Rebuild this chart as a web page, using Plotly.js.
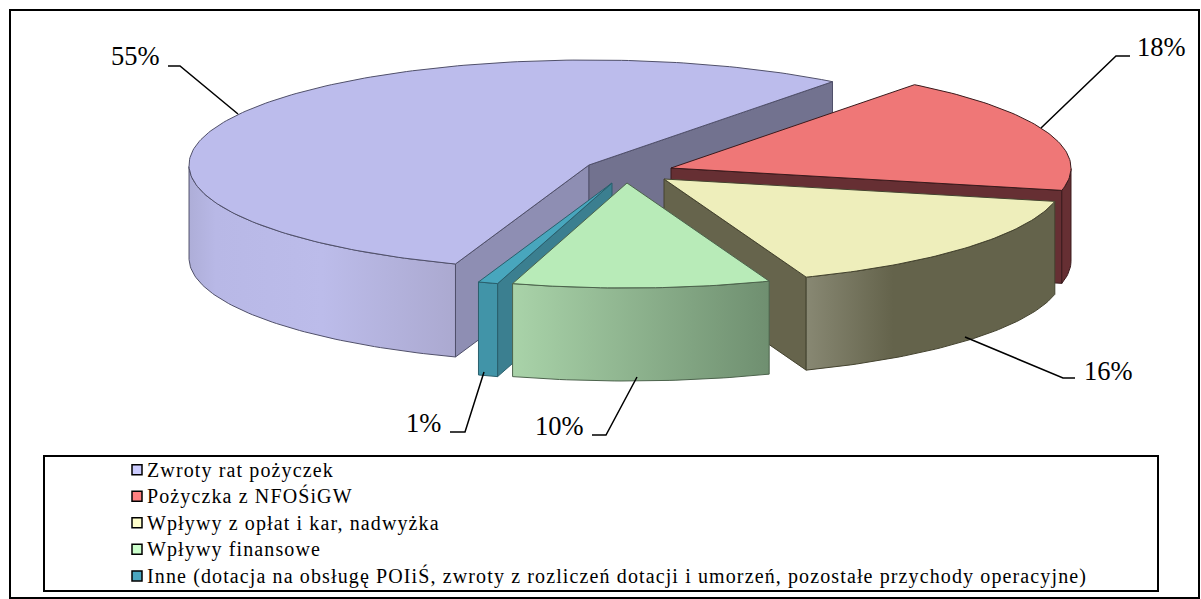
<!DOCTYPE html>
<html><head><meta charset="utf-8">
<script src="https://cdn.plot.ly/plotly-3.0.1.min.js"></script>
<style>
html,body{margin:0;padding:0;background:#fff}
#chart{width:1201px;height:599px}
.legend .legendtext{letter-spacing:1.12px;font-size:20px !important}
.legend .legendpoints{transform:translateX(10px)}
.legend .scrollbox{clip-path:none !important}
</style></head><body><div id="chart"></div>
<script>
// Data
const categories = ["Zwroty rat pożyczek","Pożyczka z NFOŚiGW","Wpływy z opłat i kar, nadwyżka","Wpływy finansowe","Inne (dotacja na obsługę POIiŚ, zwroty z rozliczeń dotacji i umorzeń, pozostałe przychody operacyjne)"];
const values = [55,18,15.8,10.4,0.8];
const labels = ["55%","18%","16%","10%","1%"];
// Styles
const legendColors = ["#ccccff","#ff8080","#ffffcc","#ccffcc","#4aa6c0"];
const topColors = ["#bcbcec","#ef7777","#eeeebb","#b8ebb8","#48a6bd"];
const wallScales = [
  [[0,"#aeaed8"],[0.1,"#b8b8e6"],[0.5,"#bcbcea"],[1,"#aba9d0"]],
  [[0,"#662f33"],[1,"#662f33"]],
  [[0,"#888873"],[0.35,"#64634b"],[1,"#64634b"]],
  [[0,"#a9d3a9"],[1,"#6f8f70"]],
  [[0,"#4194a8"],[1,"#4194a8"]]
];
const cutStartColors = ["#8e8eb3","#662f33","#64634b","#6f8f70","#3b7f90"];
const cutEndColors = ["#72728f","#662f33","#66644c","#6f8f70","#3b7f90"];
const edgeColors = ["#50506a","#3a1a1c","#44432f","#4c634c","#2a5f6c"];
// Exploded slice apexes and pie geometry (pixels)
const apexX = [589,671,664,627,612];
const apexY = [165,168,179,183,183];
const RX = 400, RY = 105, DEPTH = 93, START = 52.5;
const drawOrder = [0,4,1,2,3];
const labelX = [135,1161,1108,559,423];
const labelY = [56,47,371,426,423];
const leaderPaths = ["M168,66 L180,66 L238,114","M1130,56 L1116,56 L1041,128","M1075,378 L1063,378 L965,337","M592,435 L606,435 L637,377","M450,432 L465,432 L484,372"];

const rad = d => d*Math.PI/180;
const total = values.reduce((a,b)=>a+b,0);
let angles = [], cur = START + values[0]/total*360;
values.forEach(v => { const a0 = cur, a1 = cur - v/total*360; angles.push([a0,a1]); cur = a1; });

const pt = (i,t,dz=0) => [apexX[i]+RX*Math.cos(rad(t)), apexY[i]-RY*Math.sin(rad(t))+dz];
function poly(pts, fill, edge, grad, name){
  const tr = {type:"scatter",mode:"lines",x:pts.map(p=>p[0]),y:pts.map(p=>p[1]),fill:"toself",
    line:{color:edge,width:1},hoverinfo:"skip",showlegend:false,name:name||""};
  if(grad){ tr.fillgradient={type:"horizontal",colorscale:grad}; }
  else tr.fillcolor=fill;
  return tr;
}
const traces = [];
drawOrder.forEach(i=>{
  const [a0,a1] = angles[i];
  const apex = [apexX[i],apexY[i]];
  if(Math.cos(rad(a0))<0){
    const p=pt(i,a0); traces.push(poly([apex,p,[p[0],p[1]+DEPTH],[apex[0],apex[1]+DEPTH],apex],cutStartColors[i],edgeColors[i]));
  }
  if(Math.cos(rad(a1))>0){
    const p=pt(i,a1); traces.push(poly([apex,p,[p[0],p[1]+DEPTH],[apex[0],apex[1]+DEPTH],apex],cutEndColors[i],edgeColors[i]));
  }
  const n=Math.max(4,Math.ceil(a0-a1));
  const top=[],bot=[];
  for(let k=0;k<=n;k++){
    const t=a0-(a0-a1)*k/n;
    if(Math.sin(rad(t))<=0){ top.push(pt(i,t)); bot.push(pt(i,t,DEPTH)); }
  }
  if(top.length>1){
    traces.push(poly(top.concat(bot.reverse(),[top[0]]),null,edgeColors[i],wallScales[i]));
  }
  const arc=[apex];
  for(let k=0;k<=n;k++) arc.push(pt(i,a0-(a0-a1)*k/n));
  arc.push(apex);
  traces.push(poly(arc,topColors[i],edgeColors[i],null,categories[i]));
});
categories.forEach((c,i)=>traces.push({type:"scatter",mode:"markers",x:[-100],y:[-100],name:c,
  marker:{symbol:"square",size:10,color:legendColors[i],line:{color:"#000",width:1.5}},hoverinfo:"skip",showlegend:true}));

const shapes=[
 {type:"rect",xref:"x",yref:"y",x0:10,y0:10,x1:1199,y1:598,line:{color:"#000",width:2}},
 {type:"rect",xref:"x",yref:"y",x0:44,y0:456,x1:1158,y1:591,line:{color:"#000",width:2},layer:"below"}
].concat(leaderPaths.map(p=>({type:"path",xref:"x",yref:"y",path:p,line:{color:"#000",width:1.5}})));
const annotations=labels.map((l,i)=>({xref:"x",yref:"y",x:labelX[i],y:labelY[i],text:l,showarrow:false,xanchor:"center",yanchor:"middle",
  font:{family:"Liberation Serif",size:26.5,color:"#000"}}));

Plotly.newPlot("chart",traces,{
  width:1201,height:599,margin:{l:0,r:0,t:0,b:0},paper_bgcolor:"#fff",plot_bgcolor:"#fff",
  xaxis:{visible:false,range:[0,1201],fixedrange:true},
  yaxis:{visible:false,range:[599,0],fixedrange:true},
  shapes,annotations,
  legend:{x:107/1201,y:1-451.5/599,xanchor:"left",yanchor:"top",bgcolor:"rgba(0,0,0,0)",borderwidth:0,
    font:{family:"Liberation Serif",size:18.1,color:"#000"},traceorder:"normal"}
},{displayModeBar:false,staticPlot:true});
</script></body></html>
